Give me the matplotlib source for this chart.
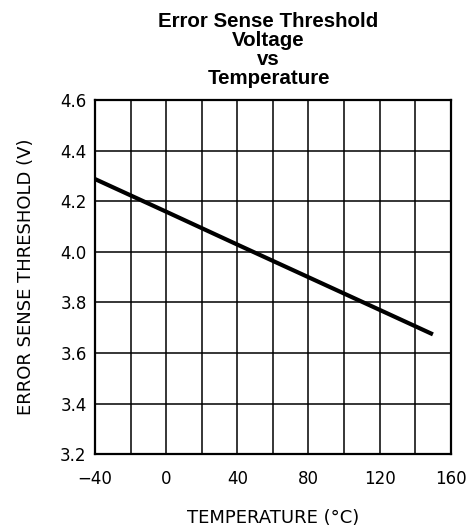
import numpy as np
import matplotlib
matplotlib.use("Agg")
import matplotlib.pyplot as plt

temps = [-40, 0, 40, 80, 120, 150]
volts = [4.288, 4.159, 4.029, 3.900, 3.771, 3.674]

xticks = [-40, 0, 40, 80, 120, 160]
yticks = [3.2, 3.4, 3.6, 3.8, 4.0, 4.2, 4.4, 4.6]

fig = plt.figure(figsize=(4.72, 5.27), dpi=100)
ax = fig.add_axes([0.2013, 0.138, 0.7536, 0.672])

ax.plot(temps, volts, color='black', lw=3.0, solid_capstyle='butt')

ax.set_xlim(-40, 160)
ax.set_ylim(3.2, 4.6)
ax.set_xticks(xticks)
ax.set_xticks(np.arange(-40, 161, 20), minor=True)
ax.set_yticks(yticks)
ax.set_yticklabels(["%.1f" % v for v in yticks])
ax.grid(True, which='both', color='black', lw=1.1)
ax.tick_params(which='both', length=0, labelsize=12)
ax.tick_params(axis='y', pad=6)
ax.tick_params(axis='x', pad=11.5)
for s in ax.spines.values():
    s.set_linewidth(1.6)

ax.set_xlabel("TEMPERATURE (°C)", fontsize=13, labelpad=15)
ax.set_ylabel("ERROR SENSE THRESHOLD (V)", fontsize=13, labelpad=18)

fig.text(0.569, 0.977, "Error Sense Threshold\nVoltage\nvs\nTemperature",
         ha='center', va='top', fontsize=14.8, fontweight='bold',
         family='Liberation Sans', linespacing=1.0)

fig.savefig("out.png", dpi=100)
